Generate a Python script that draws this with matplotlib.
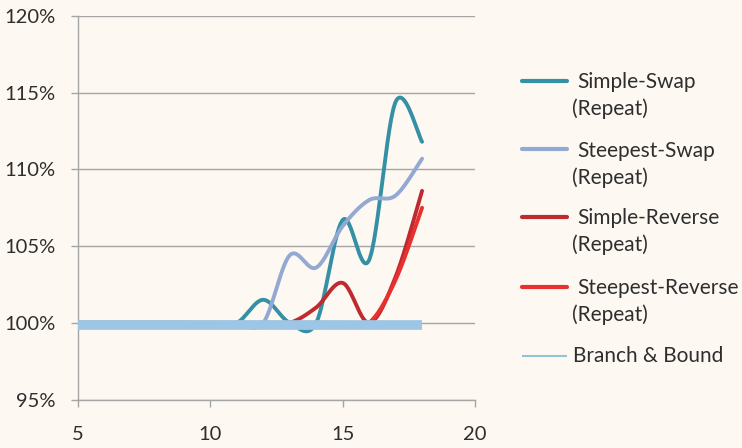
import numpy as np
import matplotlib.pyplot as plt
from matplotlib.lines import Line2D
from matplotlib.ticker import FuncFormatter

plt.rcParams['font.family'] = ['Lato', 'DejaVu Sans']

# Problem size (number of cities) and relative tour cost (% of optimum)
sizes = [5, 6, 7, 8, 9, 10, 11, 12, 13, 14, 15, 16, 17, 18]
simple_swap = [100, 100, 100, 100, 100, 100, 100, 101.5, 100, 100, 106.7, 104.1, 114.4, 111.8]
steepest_swap = [100, 100, 100, 100, 100, 100, 100, 100, 104.4, 103.6, 106.3, 108.0, 108.3, 110.7]
simple_reverse = [100, 100, 100, 100, 100, 100, 100, 100, 100, 101.0, 102.6, 100, 103.0, 108.6]
steepest_reverse = [100, 100, 100, 100, 100, 100, 100, 100, 100, 100, 100, 100, 102.8, 107.5]
branch_bound = [99.86, 99.86, 99.86, 99.86, 99.86, 99.86, 99.86, 99.86, 99.86, 99.86, 99.86, 99.86, 99.86, 99.86]

series_names = ['Simple-Swap\n(Repeat)', 'Steepest-Swap\n(Repeat)', 'Simple-Reverse\n(Repeat)',
                'Steepest-Reverse\n(Repeat)', 'Branch & Bound']
series_values = [simple_swap, steepest_swap, simple_reverse, steepest_reverse, branch_bound]
series_colors = ['#3590A5', '#93A8D2', '#BF2A30', '#E8302F', '#9DC6E6']
legend_colors = ['#3590A5', '#93A8D2', '#BF2A30', '#E8302F', '#93C3D8']

BG = '#FDF9F2'
GRID = '#A5A5A5'
TEXT = '#2E2E2E'
W, H = 742, 448


def smooth(xs, ys, per_seg=40):
    """Smoothed line through the points (Catmull-Rom style Bezier segments)."""
    p = np.column_stack([xs, ys]).astype(float)
    p_ext = np.vstack([p[0], p, p[-1]])
    t = np.linspace(0, 1, per_seg)[:, None]
    out = []
    for i in range(len(p) - 1):
        p0, p1, p2, p3 = p_ext[i], p_ext[i + 1], p_ext[i + 2], p_ext[i + 3]
        b1 = p1 + (p2 - p0) / 6.0
        b2 = p2 - (p3 - p1) / 6.0
        seg = ((1 - t) ** 3) * p1 + 3 * ((1 - t) ** 2) * t * b1 + 3 * (1 - t) * t ** 2 * b2 + t ** 3 * p2
        out.append(seg if i == 0 else seg[1:])
    c = np.vstack(out)
    return c[:, 0], c[:, 1]


fig = plt.figure(figsize=(W / 100, H / 100), dpi=100, facecolor=BG)
ax = fig.add_axes([78 / W, 1 - 399.5 / H, (475 - 78) / W, (399.5 - 16) / H])
ax.set_facecolor(BG)

for i, (vals, col) in enumerate(zip(series_values, series_colors)):
    if i == 4:
        ax.plot(sizes, vals, color=col, lw=7.0, solid_capstyle='butt', zorder=6)
    else:
        sx, sy = smooth(sizes, vals)
        ax.plot(sx, sy, color=col, lw=2.8, solid_capstyle='round',
                solid_joinstyle='round', zorder=3 + i * 0.1)

ax.set_xlim(5, 20)
ax.set_ylim(95, 120)
ax.set_xticks([5, 10, 15, 20])
ax.set_yticks([95, 100, 105, 110, 115, 120])
ax.yaxis.set_major_formatter(FuncFormatter(lambda v, _: f'{v:.0f}%'))
ax.grid(axis='y', color=GRID, lw=1.0, zorder=1)
ax.set_axisbelow(True)
for side in ('top', 'right'):
    ax.spines[side].set_visible(False)
for side in ('left', 'bottom'):
    ax.spines[side].set_color(GRID)
    ax.spines[side].set_linewidth(1.0)
ax.tick_params(axis='y', direction='out', length=5, width=1.0, color=GRID,
               pad=11, labelsize=14.5, labelcolor=TEXT)
ax.tick_params(axis='x', direction='out', length=5, width=1.0, color=GRID,
               pad=14, labelsize=14.5, labelcolor=TEXT)


def fx(x):
    return x / W


def fy(y):
    return 1 - y / H


# Legend, drawn at the right of the plot area
LEG_FS = 15
line_ys = [80.7, 149.3, 216.7, 286.7, 356]
for name, col, ly, k in zip(series_names, legend_colors, line_ys, range(5)):
    lw = 3.0 if k < 4 else 1.5
    fig.add_artist(Line2D([fx(522), fx(567)], [fy(ly), fy(ly)], color=col, lw=lw,
                          solid_capstyle='round' if k < 4 else 'butt'))
    parts = name.split('\n')
    if len(parts) == 2:
        fig.text(fx(577), fy(ly + 7.5), parts[0], fontsize=LEG_FS, color=TEXT, va='baseline', ha='left')
        fig.text(fx(572), fy(ly + 34.5), parts[1], fontsize=LEG_FS, color=TEXT, va='baseline', ha='left')
    else:
        fig.text(fx(573), fy(ly + 5.7), parts[0], fontsize=LEG_FS, color=TEXT, va='baseline', ha='left')

fig.savefig('out.png', dpi=100, facecolor=BG)
